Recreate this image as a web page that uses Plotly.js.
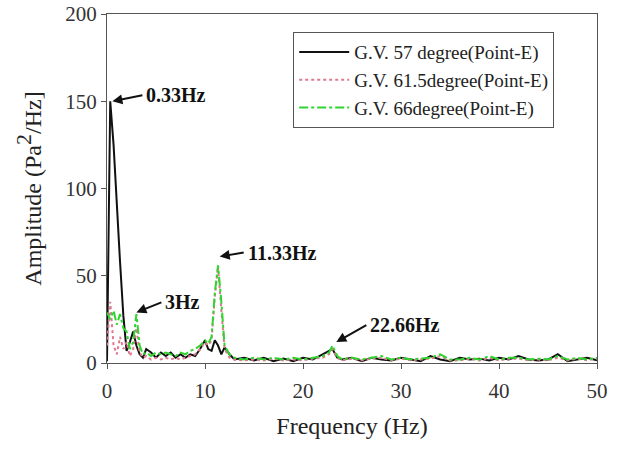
<!DOCTYPE html>
<html><head><meta charset="utf-8">
<script src="https://cdn.plot.ly/plotly-3.0.1.min.js"></script>
<style>body{margin:0;background:#fff}#c{width:619px;height:450px}</style>
</head><body><div id="c"></div>
<script>
var freq = [0,0.33,0.67,1,1.33,1.67,2,2.33,2.67,3,3.33,3.67,4,4.5,5,5.5,6,6.5,7,7.5,8,8.5,9,9.5,10,10.33,10.67,11,11.33,11.67,12,12.5,13,14,15,16,17,18,19,20,21,22,22.66,23,23.5,24,25,26,27,28,29,30,31,32,33,34,35,36,37,38,39,40,41,42,43,44,45,46,47,48,49,50];
var gv57 = [1,150,125,90,58,27,7,12,18,10,5,3,8,6,3,6,4,6,3,5,3,5,4,8,13,8,7,13,10,5,9,5,2,3,1.5,3,1,2.5,1,3,2,5,7,8,3,2,3,1,3,2,1.5,3,2,1,4,2,1,3,2,2.5,1.5,3,2,4,2,1.5,2,5,1,2,3,1.5];
var gv615 = [10,35,10,5,15,8,12,4,8,20,6,3,4,2,3,2,3,2,3,2,3,4,5,8,12,10,13,38,55,30,8,3,2,1.5,2,1.5,2.5,1.5,2,1.5,2.5,3,5,8,3,1.5,2.5,1.5,2.5,3,1.5,2.5,1.5,2,2.5,4,1.5,1.5,2.5,1.5,3,1.5,2.5,2.5,1.5,2,1.5,3,1.5,2.5,1.5,2.5];
var gv66 = [29,25,30,22,28,20,18,8,12,28,10,5,6,4,6,5,6,5,4,6,5,7,8,10,13,11,15,40,56,35,10,5,3,2,3,2,3,2,3,2,3,4,6,10,4,2,3,2,3,4,2,3,2,2.5,3,5,2,2,3,2,4,2,3,3,2,2.5,2,4,2,3,2,3];
var names = ['G.V. 57 degree(Point-E)','G.V. 61.5degree(Point-E)','G.V. 66degree(Point-E)'];
var peakLabels = ['0.33Hz','3Hz','11.33Hz','22.66Hz'];
var peakX = [0.55,3.0,11.5,23.4];
var peakY = [150,29,61,12];

var serif = 'Liberation Serif, Times New Roman, serif';
var traces = [
  {x:freq,y:gv57,name:names[0],mode:'lines',line:{color:'#111111',width:2}},
  {x:freq,y:gv615,name:names[1],mode:'lines',line:{color:'#e07890',width:2,dash:'dot'}},
  {x:freq,y:gv66,name:names[2],mode:'lines',line:{color:'#2fd42f',width:2,dash:'dashdot'}}
];
// label anchor (left-middle of label) offset in px from arrow head
var labOff = [[30,-6],[25,-10],[24,-4],[30,-17]];
var ann = [];
for (var i=0;i<peakLabels.length;i++){
  ann.push({x:peakX[i],y:peakY[i],xref:'x',yref:'y',text:'<b>'+peakLabels[i]+'</b>',showarrow:true,
    ax:labOff[i][0],ay:labOff[i][1],xanchor:'left',yanchor:'middle',borderpad:3,
    arrowhead:2,arrowsize:1,arrowwidth:2,arrowcolor:'#111',standoff:0,
    font:{family:serif,size:20,color:'#111'}});
}
var layout = {
  width:619,height:450,
  margin:{l:107,r:22,t:14,b:87},
  paper_bgcolor:'#fff',plot_bgcolor:'#fff',
  showlegend:true,
  legend:{x:0.38,y:0.948,xanchor:'left',yanchor:'top',bgcolor:'#fff',bordercolor:'#555',borderwidth:1,
    font:{family:serif,size:19,color:'#222'},tracegroupgap:0,itemwidth:50},
  xaxis:{range:[0,50],tickvals:[0,10,20,30,40,50],showgrid:false,zeroline:false,showline:true,linecolor:'#555',linewidth:1,
    mirror:true,ticks:'outside',ticklen:5,tickcolor:'#555',ticklabelstandoff:4,tickfont:{family:serif,size:21,color:'#333'},
    title:{text:'Frequency (Hz)',font:{family:serif,size:24,color:'#222'},standoff:14}},
  yaxis:{range:[0,200],tickvals:[0,50,100,150,200],showgrid:false,zeroline:false,showline:true,linecolor:'#555',linewidth:1,
    mirror:true,ticks:'outside',ticklen:5,tickcolor:'#555',tickfont:{family:serif,size:21,color:'#333'},
    title:{text:'Amplitude (Pa<sup><span style="font-size:22px">2</span></sup>/Hz]',font:{family:serif,size:24,color:'#222'},standoff:16}},
  annotations:ann
};
Plotly.newPlot('c',traces,layout,{staticPlot:true});
</script></body></html>
